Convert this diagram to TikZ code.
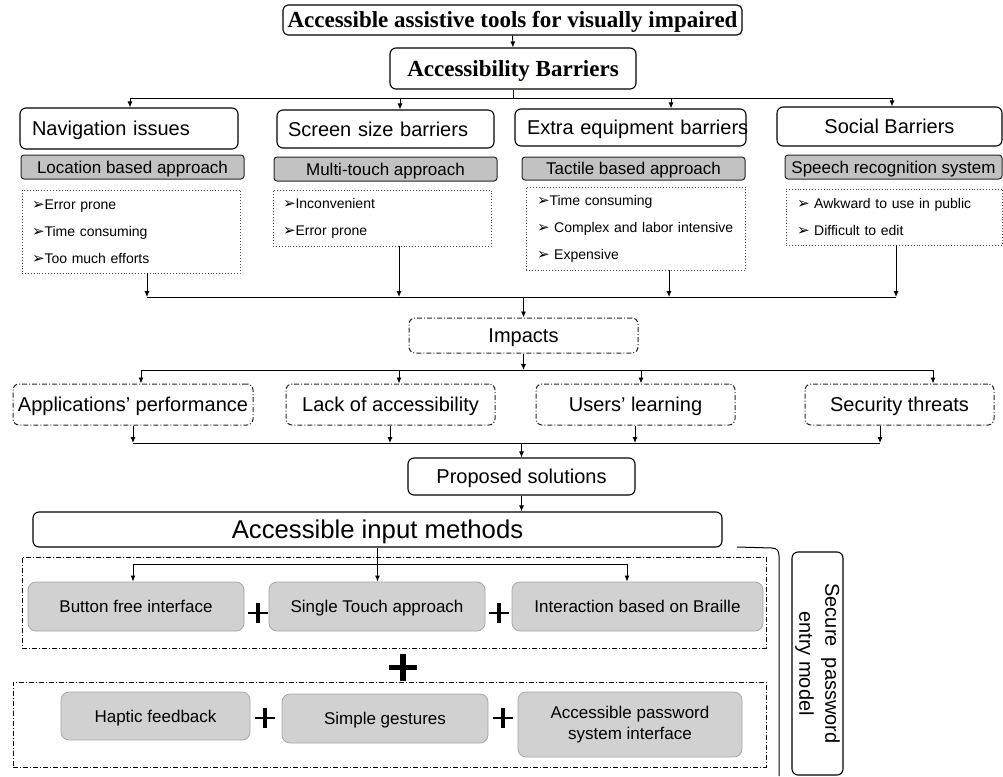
\documentclass[tikz,border=0pt]{standalone}
\usepackage{fontspec}
\setmainfont{Liberation Sans}
\newfontfamily\titlefont{Liberation Serif}
\newfontfamily\symfont{DejaVu Sans}
\usetikzlibrary{arrows.meta}
\newcommand{\fs}[2]{\fontsize{#1}{#2}\selectfont}
\newcommand{\bul}{{\symfont\fontsize{15}{12}\selectfont ➢}}
\begin{document}
\begin{tikzpicture}[x=1pt,y=-1pt,
  % text sizes with a fixed box so that capitals sit in the middle
  tw/.style={font=\fs{20}{20}, text height=17.2pt, text depth=2.8pt},
  ts/.style={font=\fs{17}{17}, text height=14.6pt, text depth=2.4pt},
  tt/.style={font=\titlefont\bfseries\fs{23}{23}, text height=19.1pt, text depth=3.9pt},
  tbox/.style={draw, rounded corners=5pt, line width=1.1pt, inner sep=0pt, fill=white, tt},
  wbox/.style={draw, rounded corners=6pt, line width=1.1pt, inner sep=0pt, fill=white},
  gbox/.style={draw=black!85, fill=black!24, rounded corners=3pt, line width=1pt, inner sep=0pt, ts},
  lbox/.style={draw=black!70, dotted, line width=0.9pt, inner sep=0pt, align=left, font=\fs{14}{27}},
  ibox/.style={draw=black!85, dash pattern=on 5pt off 2pt on 1pt off 2pt, rounded corners=6pt, line width=1pt, inner sep=0pt, tw},
  cbox/.style={draw, dash pattern=on 5pt off 2pt on 1pt off 2pt, line width=1pt, inner sep=0pt},
  sbox/.style={draw=black!35, fill=black!18, rounded corners=8pt, line width=0.8pt, inner sep=0pt, align=center},
  arr/.style={-{Latex[length=6pt,width=5pt]}, line width=0.9pt},
  ln/.style={line width=0.9pt},
  plusmark/.pic={\draw[line width=2pt] (-10,0) -- (10,0); \draw[line width=3.5pt] (0,-10) -- (0,10);},
  bigplus/.pic={\draw[line width=5pt] (-14,0) -- (14,0); \draw[line width=5.5pt] (0,-13.5) -- (0,13.5);}
]
\useasboundingbox (0,0) rectangle (1003,776);

% --- heading ---
\node[tbox, minimum width=459pt, minimum height=30pt] (title) at (512.5,20) {Accessible assistive tools for visually impaired};
\node[tbox, rounded corners=6pt, minimum width=246pt, minimum height=41pt] (barr) at (513,68.5) {Accessibility Barriers};
\draw[arr] (title.south) -- (barr.north);

% --- barrier categories ---
\coordinate (b1a) at (130,98);
\coordinate (b1b) at (400,98);
\coordinate (b1c) at (671,98);
\coordinate (b1d) at (892,98);

\node[wbox, tw, minimum width=218pt, minimum height=41pt, text width=194pt, align=left] (nav) at (129,128.5) {Navigation issues};
\node[wbox, tw, minimum width=217pt, minimum height=38pt, text width=195pt, align=left] (scr) at (385.5,129) {Screen size barriers};
\node[wbox, tw, minimum width=231pt, minimum height=37pt, text width=207pt, align=left] (ext) at (630.5,127.5) {\mbox{Extra equipment barriers}};
\node[wbox, tw, minimum width=225pt, minimum height=39pt] (soc) at (889.5,126.5) {Social Barriers};

\draw[blue!60!black, line width=0.8pt] (barr.south) -- (barr.south |- b1a);
\draw[ln] (b1a) -- (b1d);
\draw[arr] (b1a) -- (b1a |- nav.north);
\draw[arr] (b1b) -- (b1b |- scr.north);
\draw[arr] (b1c) -- (b1c |- ext.north);
\draw[arr] (b1d) -- (b1d |- soc.north);

\node[gbox, minimum width=223pt, minimum height=24pt] (loc) at (132.5,167) {Location based approach};
\node[gbox, minimum width=223pt, minimum height=24pt] (mul) at (385.5,169) {Multi-touch approach};
\node[gbox, minimum width=223pt, minimum height=23pt] (tac) at (633.5,168.5) {Tactile based approach};
\node[gbox, minimum width=217pt, minimum height=24pt] (spe) at (893.5,167) {Speech recognition system};

\node[lbox, minimum width=218pt, minimum height=83pt, text width=198pt] (navl) at (131,231.5) {\bul Error prone\\\bul Time consuming\\\bul Too much efforts};
\node[lbox, minimum width=218pt, minimum height=56pt, text width=198pt] (scrl) at (382,218) {\bul Inconvenient\\\bul Error prone};
\node[lbox, minimum width=219pt, minimum height=83pt, text width=197pt] (tacl) at (635.5,228.5) {\bul Time consuming\\\mbox{\bul\ Complex and labor intensive}\\\bul\ Expensive};
\node[lbox, minimum width=216pt, minimum height=56pt, text width=194pt] (socl) at (894,217) {\mbox{\bul\ Awkward to use in public}\\\bul\ Difficult to edit};

% --- impacts ---
\coordinate (b2a) at (147,297);
\coordinate (b2b) at (399,297);
\coordinate (b2c) at (669,297);
\coordinate (b2d) at (896,297);
\draw[arr] (b2a |- navl.south) -- (b2a);
\draw[arr] (b2b |- scrl.south) -- (b2b);
\draw[arr] (b2c |- tacl.south) -- (b2c);
\draw[arr] (b2d |- socl.south) -- (b2d);
\draw[ln] (b2a) -- (b2d);

\node[ibox, minimum width=229pt, minimum height=35pt] (imp) at (523.5,335.5) {Impacts};
\draw[arr] (imp.north |- b2a) -- (imp.north);

\coordinate (b3a) at (141,370);
\coordinate (b3b) at (399,370);
\coordinate (b3c) at (641,370);
\coordinate (b3d) at (933,370);
\draw[arr] (imp.south) -- (imp.south |- b3a);
\draw[ln] (b3a) -- (b3d);

\node[ibox, minimum width=240pt, minimum height=41pt] (app) at (133,404.5) {Applications' performance};
\node[ibox, minimum width=209pt, minimum height=41pt] (lack) at (390.5,404.5) {Lack of accessibility};
\node[ibox, minimum width=199pt, minimum height=41pt] (usr) at (635.5,404.5) {Users' learning};
\node[ibox, minimum width=189pt, minimum height=41pt] (sec) at (899.5,404.5) {Security threats};
\draw[arr] (b3a) -- (b3a |- app.north);
\draw[arr] (b3b) -- (b3b |- lack.north);
\draw[arr] (b3c) -- (b3c |- usr.north);
\draw[arr] (b3d) -- (b3d |- sec.north);

\coordinate (b4a) at (133,443);
\coordinate (b4b) at (390,443);
\coordinate (b4c) at (635,443);
\coordinate (b4d) at (880,443);
\draw[arr] (b4a |- app.south) -- (b4a);
\draw[arr] (b4b |- lack.south) -- (b4b);
\draw[arr] (b4c |- usr.south) -- (b4c);
\draw[arr] (b4d |- sec.south) -- (b4d);
\draw[ln] (b4a) -- (b4d);

% --- solutions ---
\node[wbox, tw, minimum width=227pt, minimum height=37pt] (prop) at (521.5,476.5) {Proposed solutions};
\draw[arr] (prop.north |- b4a) -- (prop.north);
\node[wbox, font=\fs{25.7}{26}, text height=22pt, text depth=3.7pt, minimum width=689pt, minimum height=35pt] (aim) at (377.5,529.5) {Accessible input methods};
\draw[arr] (prop.south) -- (prop.south |- aim.north);

\node[cbox, minimum width=744pt, minimum height=91pt] (grp1) at (394,602.5) {};
\node[cbox, minimum width=753pt, minimum height=85pt] (grp2) at (389.5,724.5) {};

\node[sbox, ts, minimum width=216pt, minimum height=49pt] (btn) at (136,606.5) {Button free interface};
\node[sbox, ts, minimum width=216pt, minimum height=49pt] (sgl) at (377,606.5) {Single Touch approach};
\node[sbox, ts, minimum width=251pt, minimum height=49pt] (brl) at (637.5,606.5) {Interaction based on Braille};

\coordinate (b5a) at (133,564);
\coordinate (b5b) at (627,564);
\draw[arr] (aim.south) -- (aim.south |- sgl.north);
\draw[ln] (b5a) -- (b5b);
\draw[arr] (b5a) -- (b5a |- btn.north);
\draw[arr] (b5b) -- (b5b |- brl.north);

\node[sbox, ts, minimum width=189pt, minimum height=48pt] (hap) at (155.5,716) {Haptic feedback};
\node[sbox, ts, minimum width=206pt, minimum height=49pt] (sim) at (385,718.5) {Simple gestures};
\node[sbox, font=\fs{17}{21}, minimum width=224pt, minimum height=65pt] (apw) at (630,724.5) {Accessible password\\system interface};

\pic at (258,613) {plusmark};
\pic at (499,613) {plusmark};
\pic at (265,718) {plusmark};
\pic at (503,718) {plusmark};
\pic at (403,667) {bigplus};

% --- model bracket and label ---
\coordinate (brk) at (737,547);
\coordinate (brkend) at (779,776);
\draw[line width=1pt] (brk) -- (772,548) .. controls (777,548) and (779,551) .. (779,556) -- (brkend);
\node[wbox, rotate=-90, minimum width=223pt, minimum height=51pt, align=center, font=\fs{20}{26}] (spm) at (817.5,663.5) {Secure \ password\\entry model};

\end{tikzpicture}
\end{document}
